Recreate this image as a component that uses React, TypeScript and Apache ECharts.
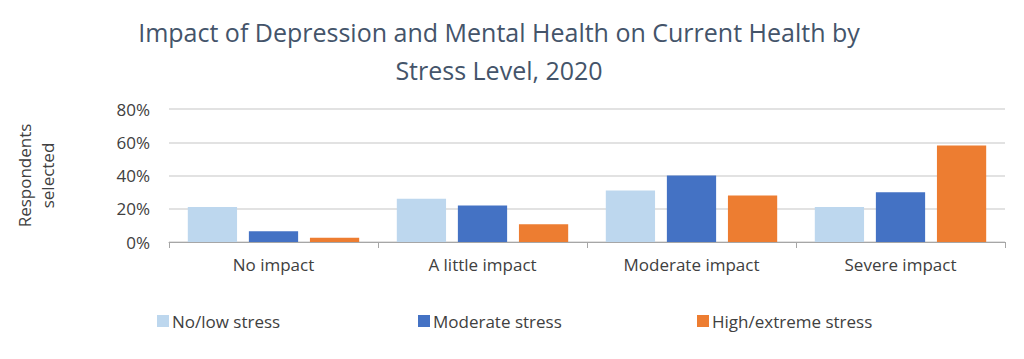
import React, { useEffect, useRef } from "react";
import * as echarts from "echarts";

const categories = ["No impact", "A little impact", "Moderate impact", "Severe impact"];
const seriesNames = ["No/low stress", "Moderate stress", "High/extreme stress"];
const noLowStress = [21, 26, 31, 21];
const moderateStress = [6.5, 22, 40, 30];
const highStress = [2.5, 10.7, 28, 58];
const yTicks = [0, 20, 40, 60, 80];
const colors = ["#BDD7EE", "#4472C4", "#ED7D31"];

export default function App() {
  const ref = useRef<HTMLDivElement>(null);
  useEffect(() => {
    document.body.style.margin = "0";
    const chart = echarts.init(ref.current!, undefined, { renderer: "svg" });
    const font = "'Open Sans', 'Noto Sans', sans-serif";
    const values = [noLowStress, moderateStress, highStress];
    const legendLefts = [157, 418, 697];
    chart.setOption({
      animation: false,
      backgroundColor: "#ffffff",
      title: {
        text: "Impact of Depression and Mental Health on Current Health by\nStress Level, 2020",
        left: 494,
        top: 8,
        textAlign: "center",
        textStyle: {
          fontFamily: font,
          fontSize: 25,
          fontWeight: "normal",
          color: "#44546A",
          lineHeight: 38,
        },
      },
      legend: seriesNames.map((n, i) => ({
        data: [n],
        left: legendLefts[i],
        top: 310,
        padding: 0,
        itemWidth: 12,
        itemHeight: 12,
        icon: "rect",
        textStyle: {
          fontFamily: font,
          fontSize: 17,
          color: "#404040",
          lineHeight: 22,
          padding: [0, 0, 0, -2],
        },
      })),
      grid: { left: 169, right: 19, top: 109, bottom: 117 },
      xAxis: {
        type: "category",
        data: categories,
        axisLine: { lineStyle: { color: "#A6A6A6" } },
        axisTick: { show: true, length: 6, lineStyle: { color: "#A6A6A6" } },
        axisLabel: { fontFamily: font, fontSize: 17, color: "#404040", margin: 14 },
      },
      yAxis: {
        type: "value",
        min: yTicks[0],
        max: yTicks[yTicks.length - 1],
        interval: 20,
        name: "Respondents\nselected",
        nameLocation: "middle",
        nameRotate: 90,
        nameGap: 110,
        nameTextStyle: { fontFamily: font, fontSize: 17, color: "#404040", lineHeight: 23 },
        axisLine: { show: false },
        axisTick: { show: false },
        splitLine: { lineStyle: { color: "#D9D9D9", width: 1.5 } },
        axisLabel: {
          fontFamily: font,
          fontSize: 17,
          color: "#404040",
          margin: 19,
          formatter: (v: number) => `${v}%`,
        },
      },
      series: seriesNames.map((n, i) => ({
        name: n,
        type: "bar",
        data: values[i],
        itemStyle: { color: colors[i] },
        barGap: "24%",
        barCategoryGap: "18%",
      })),
    });
    return () => chart.dispose();
  }, []);
  return <div ref={ref} style={{ width: 1024, height: 359 }} />;
}
